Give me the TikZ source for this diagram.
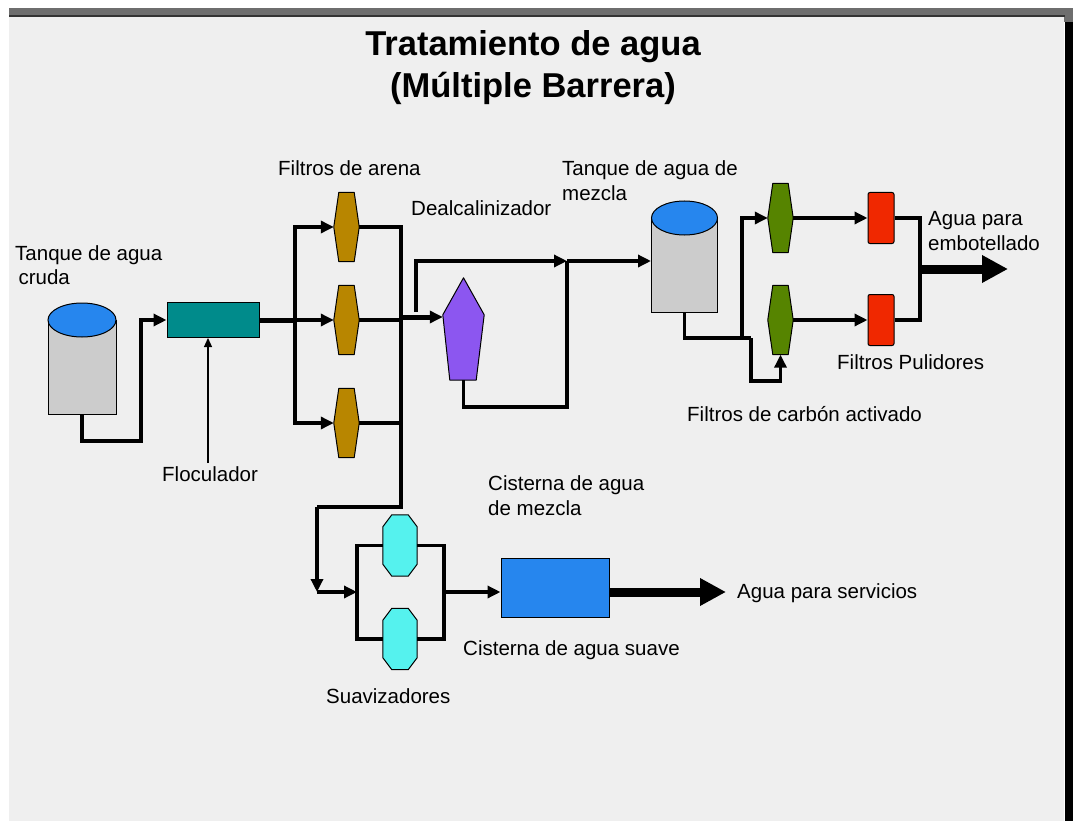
\documentclass[tikz,border=0pt]{standalone}
\usepackage{fontspec}
\setmainfont{Liberation Sans}
\usetikzlibrary{arrows.meta,shapes.geometric}
\definecolor{panelgray}{HTML}{EFEFEF}
\definecolor{bargray}{HTML}{6E6E6E}
\definecolor{tankgray}{HTML}{CCCCCC}
\definecolor{waterblue}{HTML}{2686EE}
\definecolor{flocteal}{HTML}{008B8B}
\definecolor{sandbrown}{HTML}{B88600}
\definecolor{dealpurple}{HTML}{8C56F0}
\definecolor{coalgreen}{HTML}{568400}
\definecolor{polishred}{HTML}{F02800}
\definecolor{softcyan}{HTML}{55F2EE}
\tikzset{
  pipe/.style={line width=3.8pt},
  widepipe/.style={line width=5pt},
  bigarrow/.style={line width=9pt, -{Triangle[length=26pt,width=26pt]}},
  tankbody/.style={draw, line width=1pt, fill=tankgray, minimum width=68pt, minimum height=94pt, inner sep=0pt},
  tanktop/.style={ellipse, draw, line width=1pt, fill=waterblue, minimum width=68pt, minimum height=34pt, inner sep=0pt},
  filterbox/.style={minimum width=25pt, minimum height=69pt, inner sep=0pt},
  softbox/.style={minimum width=34pt, minimum height=61pt, inner sep=0pt},
  unitline/.style={line width=1pt, line join=round},
  polishfilter/.style={draw, rounded corners=2pt, line width=1pt, fill=polishred, minimum width=26pt, minimum height=51pt, inner sep=0pt},
  lbl/.style={anchor=west, inner sep=0pt, align=left, font=\fontsize{20.5}{24.5}\selectfont}
}
% outline with cut corners round a named box: name, x cut, y cut, colour
\newcommand{\cutbox}[4]{\draw[unitline, fill=#4] ([xshift=#2]#1.north west) -- ([xshift=-#2]#1.north east) -- ([yshift=-#3]#1.north east) -- ([yshift=#3]#1.south east) -- ([xshift=-#2]#1.south east) -- ([xshift=#2]#1.south west) -- ([yshift=#3]#1.south west) -- ([yshift=-#3]#1.north west) -- cycle;}
\begin{document}
\begin{tikzpicture}[x=1pt, y=-1pt, >={Triangle[length=13pt,width=12pt]}]
    \useasboundingbox (0,0) rectangle (1073,821);

    % Frame
    \fill[white] (0,0) rectangle (1073,821);
    \fill[bargray] (9,8) rectangle (1073,22);
    \fill[black] (1065,22) rectangle (1073,821);
    \fill[black!80] (9,15) rectangle (1065,17);
    \fill[panelgray] (9,17) rectangle (1064,821);

    % Title
    \node (title) [align=center, inner sep=0pt, font=\fontsize{34.5}{42}\selectfont\bfseries] at (533,68) {Tratamiento de agua\\(Múltiple Barrera)};

    % Tanks
    \node (tank1) [tankbody] at (82,367) {};
    \node (tank1top) [tanktop] at (82,320) {};
    \node (tank2) [tankbody, minimum width=66pt] at (684.5,265) {};
    \node (tank2top) [tanktop, minimum width=66pt] at (684.5,218) {};

    % Treatment units
    \node (floc) [draw, line width=1pt, fill=flocteal, minimum width=92pt, minimum height=35pt, inner sep=0pt] at (213,320) {};
    \node (sand1) [filterbox] at (346.5,227) {};
    \node (sand2) [filterbox] at (346.5,320) {};
    \node (sand3) [filterbox] at (346.5,423) {};
    \cutbox{sand1}{5pt}{34.5pt}{sandbrown}
    \cutbox{sand2}{5pt}{34.5pt}{sandbrown}
    \cutbox{sand3}{5pt}{34.5pt}{sandbrown}
    \node (deal) [minimum width=41pt, minimum height=102pt, inner sep=0pt] at (463.5,329) {};
    \draw[unitline, fill=dealpurple] (deal.north) -- ([yshift=-37pt]deal.north east) -- ([xshift=-8pt]deal.south east) -- ([xshift=7pt]deal.south west) -- ([yshift=-37pt]deal.north west) -- cycle;
    \node (coal1) [filterbox] at (780.5,218) {};
    \node (coal2) [filterbox] at (780.5,320) {};
    \cutbox{coal1}{5pt}{34.5pt}{coalgreen}
    \cutbox{coal2}{5pt}{34.5pt}{coalgreen}
    \node (polish1) [polishfilter] at (881,218) {};
    \node (polish2) [polishfilter] at (881,320) {};
    \node (soft1) [softbox] at (400,545.5) {};
    \node (soft2) [softbox] at (400,639) {};
    \cutbox{soft1}{9pt}{12pt}{softcyan}
    \cutbox{soft2}{9pt}{12pt}{softcyan}
    \node (softtank) [draw, line width=1pt, fill=waterblue, minimum width=108pt, minimum height=59pt, inner sep=0pt] at (555,587.5) {};

    % Labels
    \node (rawlbl) [lbl] at (15,265) {Tanque de agua\\ \,cruda};
    \node (floclbl) [lbl] at (162,474) {Floculador};
    \node (sandlbl) [lbl] at (278,168) {Filtros de arena};
    \node (deallbl) [lbl] at (411,208) {Dealcalinizador};
    \node (mixlbl) [lbl] at (562,180.5) {Tanque de agua de\\mezcla};
    \node (bottlelbl) [lbl] at (928,231) {Agua para\\embotellado};
    \node (polishlbl) [lbl] at (837,362) {Filtros Pulidores};
    \node (coallbl) [lbl] at (687,414) {Filtros de carbón activado};
    \node (cistlbl) [lbl] at (488,495.5) {Cisterna de agua\\de mezcla};
    \node (softtanklbl) [lbl] at (463,650) {Cisterna de agua suave};
    \node (softlbl) [lbl] at (326,696) {Suavizadores};
    \node (servlbl) [lbl] at (737,593) {Agua para servicios};

    % Junctions
    \coordinate (tanklow) at (141,441);
    \coordinate (flocbase) at (208,463);
    \coordinate (floctip) at (208,338);
    \coordinate (sandin) at (295,320);
    \coordinate (sandout) at (401,320);
    \coordinate (dealin) at (401,317);
    \coordinate (bypass) at (416,312);
    \coordinate (mix) at (567,261);
    \coordinate (dealback) at (567,407);
    \coordinate (split1) at (742,338);
    \coordinate (split2) at (751,338);
    \coordinate (coallow) at (780.5,381);
    \coordinate (bottle) at (920,269);
    \coordinate (bottleend) at (1008,269);
    \coordinate (softdrop) at (401,507);
    \coordinate (softleft) at (317,507);
    \coordinate (softjoin) at (317,592);
    \coordinate (softin) at (357,592);
    \coordinate (softout) at (444,592);
    \coordinate (servend) at (726,592);

    % Raw water to sand filters
    \draw[pipe, ->] (tank1.south) |- (tanklow) |- (floc.west);
    \draw[line width=1.2pt, -{Triangle[length=9pt,width=8pt]}] (flocbase) -- (floctip);
    \draw[widepipe] (floc.east) -- (sandin);
    \draw[pipe, ->] (sandin) |- (sand1.west);
    \draw[pipe, ->] (sandin) -- (sand2.west);
    \draw[pipe, ->] (sandin) |- (sand3.west);
    \draw[pipe] (sand1.east) -| (sandout);
    \draw[pipe] (sand2.east) -- (sandout);
    \draw[pipe] (sand3.east) -| (sandout);

    % Dealkalizer and mixing tank
    \draw[widepipe, ->] (dealin) -- ([yshift=12pt]deal.west);
    \draw[pipe, ->] (bypass) |- (mix);
    \draw[pipe] (deal.south) |- (dealback) -- (mix);
    \draw[pipe, ->] (mix) -- (mix -| tank2.west);

    % Carbon and polishing filters
    \draw[pipe] (tank2.south) |- (split2);
    \draw[pipe, ->] (split1) |- (coal1.west);
    \draw[pipe, ->] (split2) |- (coallow) -- (coal2.south);
    \draw[pipe, ->] (coal1.east) -- (polish1.west);
    \draw[pipe, ->] (coal2.east) -- (polish2.west);
    \draw[pipe] (polish1.east) -| (bottle);
    \draw[pipe] (polish2.east) -| (bottle);
    \draw[bigarrow] (bottle) -- (bottleend);

    % Softeners and soft water cistern
    \draw[pipe] (sandout) -- (softdrop) -- (softleft);
    \draw[pipe, ->] (softleft) -- (softjoin);
    \draw[pipe, ->] (softjoin) -- (softin);
    \draw[pipe] (soft1.west) -| (softin) |- (soft2.west);
    \draw[pipe] (soft1.east) -| (softout) |- (soft2.east);
    \draw[pipe, ->] (softout) -- (softtank.west |- softout);
    \draw[bigarrow] (softtank.east |- servend) -- (servend);

\end{tikzpicture}
\end{document}
